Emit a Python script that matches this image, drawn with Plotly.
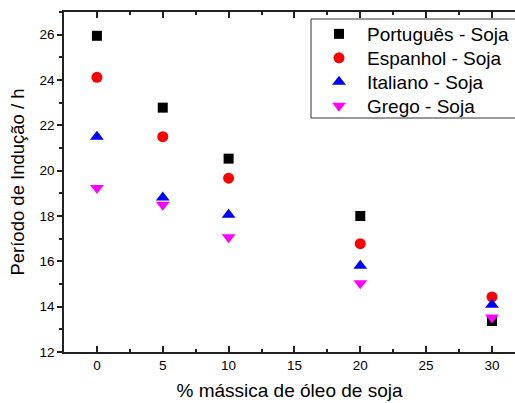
import plotly.graph_objects as go

x_vals = [0, 5, 10, 20, 30]
portugues = [25.95, 22.78, 20.53, 18.0, 13.37]
espanhol = [24.12, 21.5, 19.67, 16.78, 14.43]
italiano = [21.5, 18.82, 18.05, 15.8, 14.08]
grego = [19.24, 18.5, 17.06, 15.03, 13.52]
x_ticks = [0, 5, 10, 15, 20, 25, 30]
y_ticks = [12, 14, 16, 18, 20, 22, 24, 26]

series = [
    ("Português - Soja", portugues, "square", "black", 10),
    ("Espanhol - Soja", espanhol, "circle", "red", 11),
    ("Italiano - Soja", italiano, "triangle-up", "blue", 12),
    ("Grego - Soja", grego, "triangle-down", "magenta", 12),
]

W, H = 515, 403
ML, MR, MT, MB = 64, 0, 12, 51
PW, PH = W - ML - MR, H - MT - MB
font = "Liberation Sans, Arial, sans-serif"

def px_x(px):
    return (px - ML) / PW

def px_y(py):
    return 1 - (py - MT) / PH

row_centers = [34, 58, 82, 106]
legend_keys = ["legend", "legend2", "legend3", "legend4"]

fig = go.Figure()
for (name, vals, sym, col, sz), lk in zip(series, legend_keys):
    fig.add_trace(go.Scatter(
        x=x_vals, y=vals, mode="markers", name=name, legend=lk,
        marker=dict(symbol=sym, color=col, size=sz, line=dict(width=0)),
    ))

legend_layouts = {}
for lk, rc in zip(legend_keys, row_centers):
    legend_layouts[lk] = dict(
        x=px_x(311), y=px_y(rc), xanchor="left", yanchor="middle",
        borderwidth=0, bgcolor="rgba(0,0,0,0)",
        font=dict(size=19, family=font), itemwidth=46,
    )

fig.update_layout(
    width=W, height=H,
    margin=dict(l=ML, r=MR, t=MT, b=MB, autoexpand=False),
    plot_bgcolor="white", paper_bgcolor="white",
    font=dict(family=font, color="black", size=13),
    showlegend=True,
    **legend_layouts,
    shapes=[dict(
        type="rect", xref="paper", yref="paper",
        x0=px_x(311), x1=px_x(530), y0=px_y(118), y1=px_y(19),
        line=dict(color="#333333", width=1), fillcolor="rgba(0,0,0,0)", layer="above",
    )],
    xaxis=dict(
        range=[-2.5, 31.75], tickvals=x_ticks,
        showgrid=False, zeroline=False,
        showline=True, linecolor="#222222", linewidth=1.5, mirror="ticks",
        ticks="inside", ticklen=6, tickcolor="#222222", tickwidth=1.5,
        minor=dict(dtick=2.5, tick0=0, ticks="inside", ticklen=3, tickcolor="#222222", showgrid=False),
        tickfont=dict(size=13.5),
        title=dict(text="% mássica de óleo de soja", font=dict(size=19), standoff=12),
    ),
    yaxis=dict(
        range=[12, 27], tickvals=y_ticks,
        showgrid=False, zeroline=False,
        showline=True, linecolor="#222222", linewidth=1.5,
        ticks="outside", ticklen=5, tickcolor="#222222", tickwidth=1.5,
        minor=dict(dtick=1, tick0=0, ticks="outside", ticklen=3, tickcolor="#222222", showgrid=False),
        tickfont=dict(size=13.5),
        title=dict(text="Período de Indução / h", font=dict(size=18.5), standoff=10),
    ),
)

fig.write_html(
    "out.html",
    config={"displayModeBar": False},
    post_script="document.body.style.margin='0px';document.body.style.overflow='hidden';",
)
